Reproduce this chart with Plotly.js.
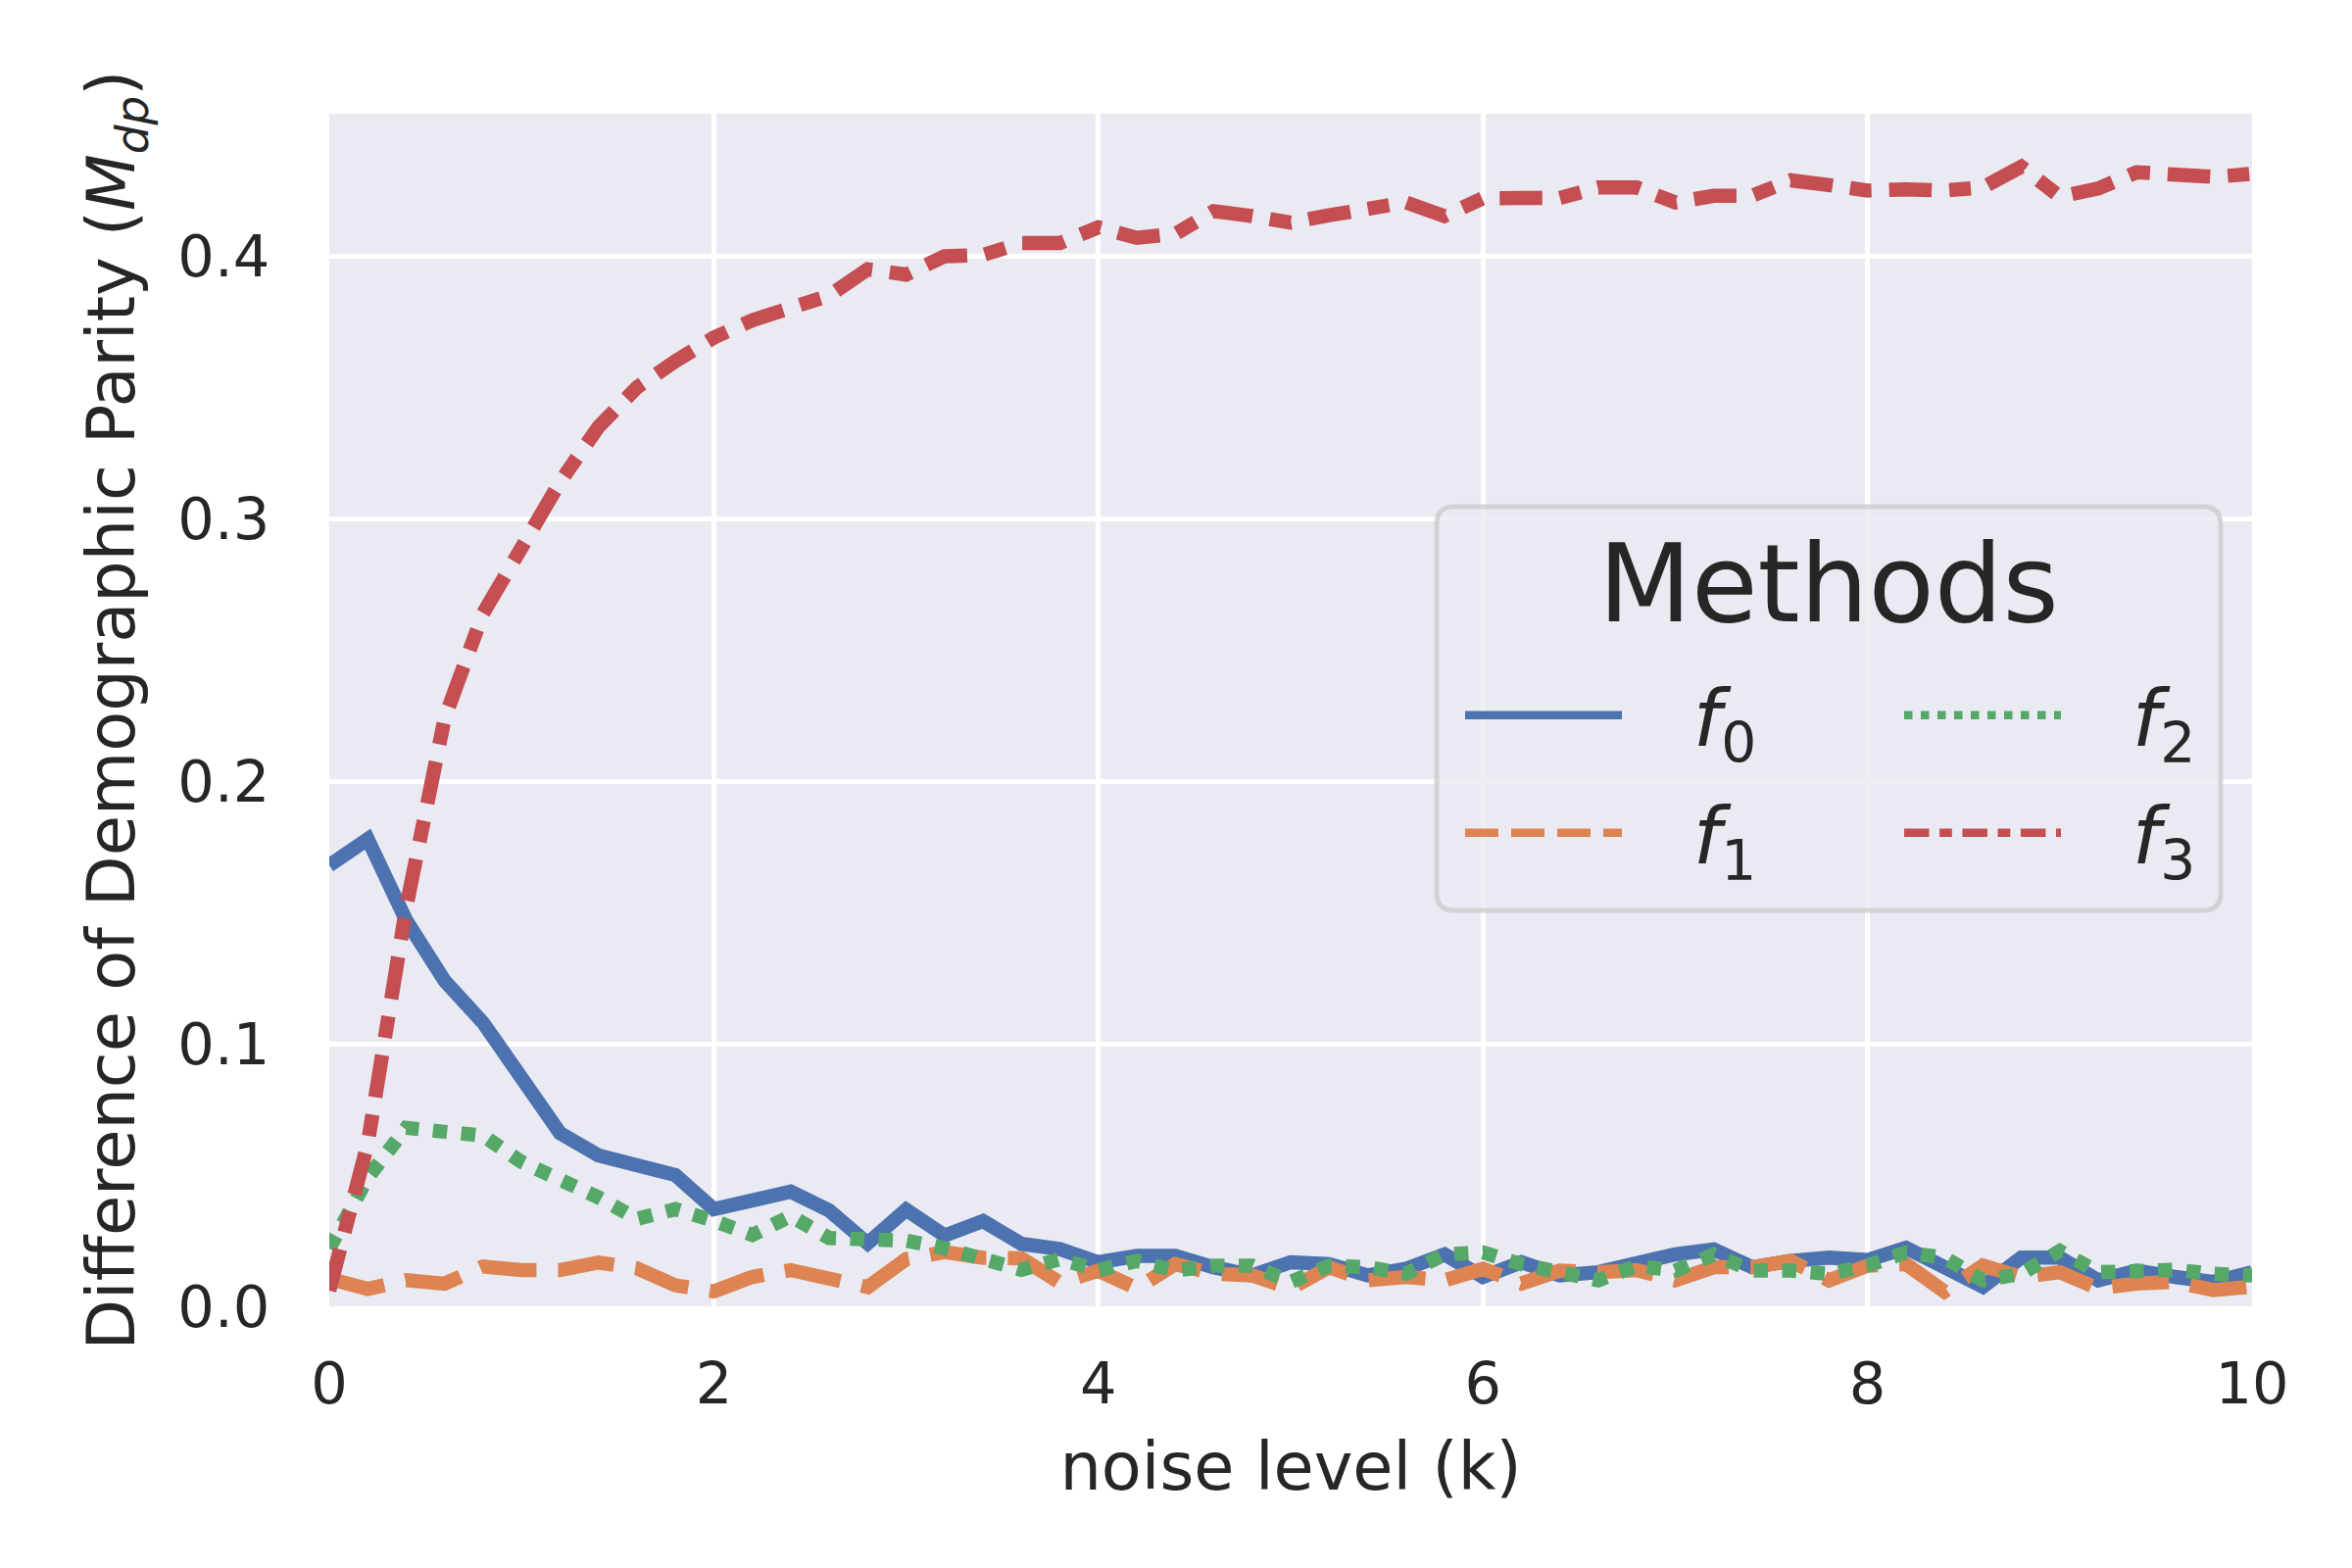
<!DOCTYPE html>
<html>
<head>
<meta charset="utf-8">
<script src="https://cdn.plot.ly/plotly-3.0.1.min.js"></script>
<style>
  body { margin: 0; background: #ffffff; }
  #chart { width: 2400px; height: 1600px; }
</style>
</head>
<body>
<div id="chart"></div>
<script>
// noise level k, sampled every 0.2
const noiseLevel = [0, 0.2, 0.4, 0.6, 0.8, 1.0, 1.2, 1.4, 1.6, 1.8,
    2.0, 2.2, 2.4, 2.6, 2.8, 3.0, 3.2, 3.4, 3.6, 3.8,
    4.0, 4.2, 4.4, 4.6, 4.8, 5.0, 5.2, 5.4, 5.6, 5.8,
    6.0, 6.2, 6.4, 6.6, 6.8, 7.0, 7.2, 7.4, 7.6, 7.8,
    8.0, 8.2, 8.4, 8.6, 8.8, 9.0, 9.2, 9.4, 9.6, 9.8, 10];

const f0Vals = [0.168, 0.178, 0.147, 0.124, 0.108, 0.087, 0.066, 0.0575, 0.0533, 0.050,
    0.037, 0.040, 0.0437, 0.0365, 0.024, 0.0368, 0.027, 0.0325, 0.0238, 0.0218,
    0.0168, 0.0192, 0.0192, 0.0149, 0.0118, 0.0168, 0.0161, 0.0118, 0.0143, 0.0198,
    0.0112, 0.0168, 0.0118, 0.013, 0.0168, 0.0198, 0.0217, 0.0149, 0.0173, 0.0186,
    0.0176, 0.0223, 0.0149, 0.0075, 0.0186, 0.0186, 0.0099, 0.0136, 0.0112, 0.0093, 0.013];

const f1Vals = [0.0105, 0.0066, 0.0100, 0.0086, 0.0152, 0.0138, 0.0138, 0.0167, 0.0145, 0.008,
    0.0057, 0.0112, 0.0138, 0.0111, 0.0073, 0.018, 0.0207, 0.0185, 0.0183, 0.009,
    0.0136, 0.0068, 0.0161, 0.0124, 0.0118, 0.0068, 0.0149, 0.0099, 0.0112, 0.0099,
    0.0143, 0.0087, 0.0136, 0.013, 0.0138, 0.0099, 0.0149, 0.0149, 0.0173, 0.0099,
    0.0155, 0.0161, 0.0056, 0.0155, 0.0112, 0.013, 0.0068, 0.0087, 0.0093, 0.0062, 0.0075];

const f2Vals = [0.022, 0.049, 0.068, 0.067, 0.065, 0.055, 0.0486, 0.0415, 0.0333, 0.037,
    0.0326, 0.0272, 0.0344, 0.026, 0.0255, 0.025, 0.0222, 0.018, 0.0139, 0.018,
    0.0138, 0.0173, 0.0136, 0.0155, 0.0155, 0.0093, 0.0155, 0.0149, 0.0124, 0.0198,
    0.0205, 0.0161, 0.0124, 0.0099, 0.0155, 0.0136, 0.0198, 0.0136, 0.0136, 0.0124,
    0.0155, 0.0205, 0.0186, 0.0099, 0.0124, 0.0211, 0.013, 0.0136, 0.0139, 0.0124, 0.0118];

const f3Vals = [0.006, 0.062, 0.152, 0.224, 0.264, 0.290, 0.314, 0.335, 0.350, 0.360,
    0.369, 0.3756, 0.381, 0.385, 0.395, 0.393, 0.400, 0.4005, 0.405, 0.405,
    0.411, 0.407, 0.4085, 0.4172, 0.4153, 0.4128, 0.4156, 0.4178, 0.4205, 0.4153,
    0.4221, 0.4222, 0.4222, 0.4262, 0.4262, 0.4205, 0.423, 0.423, 0.4289, 0.4271,
    0.425, 0.4255, 0.425, 0.4262, 0.4341, 0.4227, 0.4258, 0.432, 0.4308, 0.4302, 0.4314];

const methodNames = ["f0", "f1", "f2", "f3"];
const xTicks = [0, 2, 4, 6, 8, 10];
const yTicks = [0, 0.1, 0.2, 0.3, 0.4];
const yTickText = ["0.0", "0.1", "0.2", "0.3", "0.4"];

const colors = ["#4C72B0", "#DD8452", "#55A868", "#C44E52"];
const textColor = "#262626";
const font = "DejaVu Sans";

// seaborn style dashes, scaled by line width
const plotDash = ["solid", "58px,22px", "14.5px,14.5px", "43.5px,18px,22px,18px"];
const legendDash = ["solid", "34px,13px", "8.5px,8.5px", "25.5px,10.6px,12.75px,10.6px"];

// plot area in pixels
const W = 2400, H = 1600;
const mL = 336, mR = 102, mT = 116, mB = 267;
const plotW = W - mL - mR, plotH = H - mT - mB;

const px2paperX = (px) => (px - mL) / plotW;
const px2paperY = (py) => (H - mB - py) / plotH;

const roundedBox = (x0, y0, x1, y1, r) => {
    const X = px2paperX, Y = px2paperY;
    return `M${X(x0 + r)},${Y(y0)} L${X(x1 - r)},${Y(y0)} Q${X(x1)},${Y(y0)} ${X(x1)},${Y(y0 + r)}` +
        ` L${X(x1)},${Y(y1 - r)} Q${X(x1)},${Y(y1)} ${X(x1 - r)},${Y(y1)}` +
        ` L${X(x0 + r)},${Y(y1)} Q${X(x0)},${Y(y1)} ${X(x0)},${Y(y1 - r)}` +
        ` L${X(x0)},${Y(y0 + r)} Q${X(x0)},${Y(y0)} ${X(x0 + r)},${Y(y0)} Z`;
}

const series = [f0Vals, f1Vals, f2Vals, f3Vals];
const legendIds = ["legend", "legend2", "legend3", "legend4"];

const traces = [];
series.forEach((vals, i) => {
    traces.push({
        x: noiseLevel,
        y: vals,
        type: "scatter",
        mode: "lines",
        showlegend: false,
        line: {color: colors[i], width: 14.5, dash: plotDash[i]}
    });
});
// legend-only handles (thinner lines, like the matplotlib legend)
methodNames.forEach((name, i) => {
    traces.push({
        x: [null],
        y: [null],
        type: "scatter",
        mode: "lines",
        name: `&nbsp;&nbsp;&#8201;<i>f</i><sub>${name.slice(1)}</sub>`,
        legend: legendIds[i],
        line: {color: colors[i], width: 8.5, dash: legendDash[i]}
    });
});

// legend item positions in pixels (legend left x, row centre y)
const legendPos = [[1490, 730], [1490, 850], [1938, 730], [1938, 850]];

const makeLegend = (pos) => ({
    x: pos[0] / W,
    y: 1 - pos[1] / H,
    xref: "container",
    yref: "container",
    xanchor: "left",
    yanchor: "middle",
    bgcolor: "rgba(0,0,0,0)",
    borderwidth: 0,
    itemwidth: 160,
    font: {family: font, size: 81, color: textColor}
});

const layout = {
    width: W,
    height: H,
    margin: {l: mL, r: mR, t: mT, b: mB, autoexpand: false},
    paper_bgcolor: "#ffffff",
    plot_bgcolor: "#EAEAF2",
    font: {family: font, color: textColor},
    xaxis: {
        range: [0, 10],
        tickvals: xTicks,
        ticks: "outside",
        ticklen: 27,
        tickcolor: "rgba(0,0,0,0)",
        tickfont: {family: font, size: 59, color: textColor},
        showgrid: true,
        gridcolor: "#ffffff",
        gridwidth: 5,
        zeroline: false,
        showline: false,
        automargin: false,
        title: {
            text: "noise level (k)",
            font: {family: font, size: 67, color: textColor},
            standoff: 28
        }
    },
    yaxis: {
        range: [0, 0.4543],
        tickvals: yTicks,
        ticktext: yTickText,
        ticks: "outside",
        ticklen: 48,
        tickcolor: "rgba(0,0,0,0)",
        tickfont: {family: font, size: 59, color: textColor},
        showgrid: true,
        gridcolor: "#ffffff",
        gridwidth: 5,
        zeroline: false,
        showline: false,
        automargin: false,
        title: {
            text: "Difference of Demographic Parity (<i>M</i><sub><i>dp</i></sub>)",
            font: {family: font, size: 67, color: textColor},
            standoff: 21
        }
    },
    legend: makeLegend(legendPos[0]),
    legend2: makeLegend(legendPos[1]),
    legend3: makeLegend(legendPos[2]),
    legend4: makeLegend(legendPos[3]),
    shapes: [{
        type: "path",
        xref: "paper",
        yref: "paper",
        path: roundedBox(1466, 517, 2266, 929, 18),
        fillcolor: "rgba(234,234,242,0.8)",
        line: {color: "rgba(204,204,204,0.8)", width: 5},
        layer: "above"
    }],
    annotations: [{
        text: "Methods",
        xref: "paper",
        yref: "paper",
        x: px2paperX(1866),
        y: px2paperY(596),
        xanchor: "center",
        yanchor: "middle",
        showarrow: false,
        font: {family: font, size: 110, color: textColor}
    }]
};

const config = {staticPlot: true, displayModeBar: false};

Plotly.newPlot("chart", traces, layout, config);
</script>
</body>
</html>
